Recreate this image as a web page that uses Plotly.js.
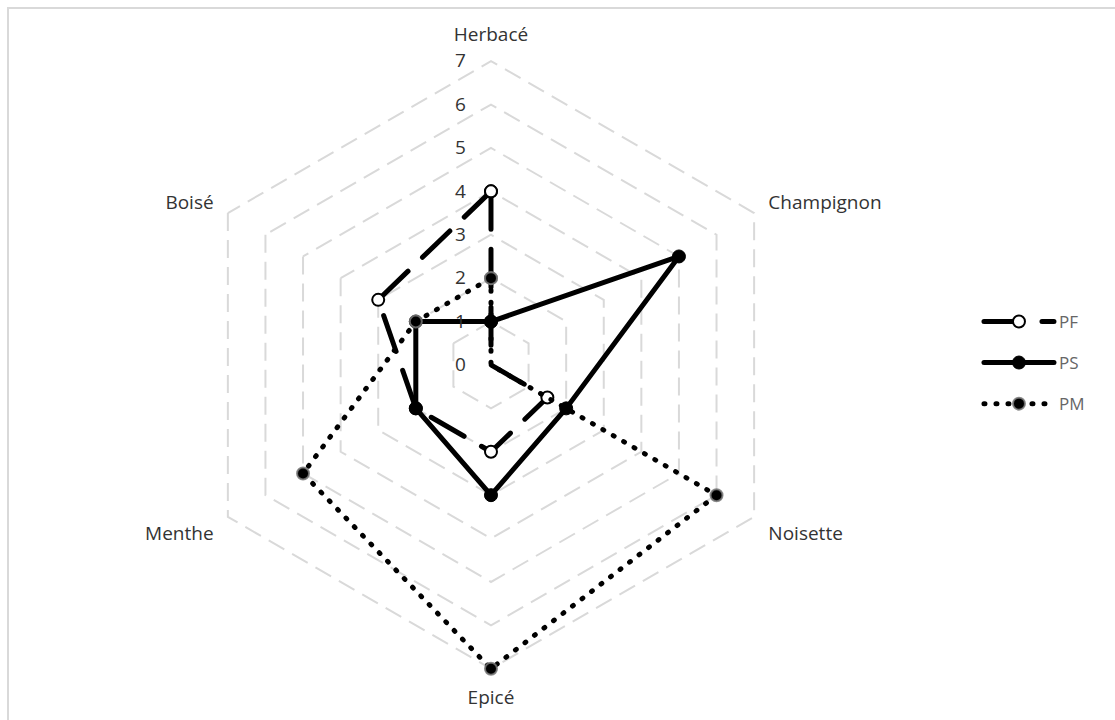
<!DOCTYPE html>
<html>
<head>
<meta charset="utf-8">
<script src="https://cdn.plot.ly/plotly-3.0.1.min.js"></script>
<style>
  html, body { margin: 0; padding: 0; background: #fff; }
  #wrap { position: relative; width: 1115px; height: 720px; overflow: hidden; }
  #frame { position: absolute; left: 7px; top: 7px; width: 1200px; height: 800px;
           border-top: 2px solid #d9d9d9; border-left: 2px solid #d9d9d9; pointer-events: none; }
  #chart { position: absolute; left: 0; top: 0; width: 1115px; height: 720px; }
  /* rounded ends for the dash and dot patterns of the profile lines */
  .scatterlayer .js-line, .legend .js-line { stroke-linecap: round; stroke-linejoin: round; }
</style>
</head>
<body>
<div id="wrap">
  <div id="frame"></div>
  <div id="chart"></div>
</div>
<script>
// Aroma descriptors, clockwise from the top
const descriptors = ['Herbacé', 'Champignon', 'Noisette', 'Epicé', 'Menthe', 'Boisé'];

// Scores per profile
const pfScores = [4, 0, 1.5, 2, 2, 3];
const psScores = [1, 5, 2, 3, 2, 2];
const pmScores = [2, 0, 6, 7, 5, 2];

const radialTicks = [0, 1, 2, 3, 4, 5, 6, 7];

// close each polygon by repeating the first descriptor
const closeLoop = arr => arr.concat([arr[0]]);
const theta = closeLoop(descriptors);

const pf = {
  type: 'scatterpolar', mode: 'lines+markers', name: 'PF',
  r: closeLoop(pfScores), theta: theta,
  line: { color: '#000', width: 5, dash: '38px,20px' },
  marker: { size: 12, color: '#fff', line: { color: '#000', width: 2 } },
  legendgroup: 'a', cliponaxis: false
};
const ps = {
  type: 'scatterpolar', mode: 'lines+markers', name: 'PS',
  r: closeLoop(psScores), theta: theta,
  line: { color: '#000', width: 5 },
  marker: { size: 13, color: '#000', line: { color: '#000', width: 1 } },
  legendgroup: 'b', cliponaxis: false
};
const pm = {
  type: 'scatterpolar', mode: 'lines+markers', name: 'PM',
  r: closeLoop(pmScores), theta: theta,
  line: { color: '#000', width: 5, dash: '1px,11px' },
  marker: { size: 12, color: '#000', line: { color: 'rgba(120,120,120,0.85)', width: 2 } },
  legendgroup: 'c', cliponaxis: false
};

const font = { family: '"Open Sans", "Liberation Sans", sans-serif', size: 19, color: '#333' };

const layout = {
  width: 1115, height: 720,
  margin: { l: 0, r: 0, t: 0, b: 0 },
  paper_bgcolor: 'rgba(0,0,0,0)',
  plot_bgcolor: 'rgba(0,0,0,0)',
  font: font,
  showlegend: true,
  legend: {
    x: 0.878, y: 0.496, xanchor: 'left', yanchor: 'middle',
    traceorder: 'grouped', tracegroupgap: 16, itemwidth: 70,
    font: { family: font.family, size: 17, color: '#666' },
    bgcolor: 'rgba(0,0,0,0)'
  },
  polar: {
    // range runs a little past 7 so the outer hexagon gridline is kept
    domain: { x: [0.1659, 0.7148], y: [0.0681, 0.9181] },
    bgcolor: 'rgba(0,0,0,0)',
    gridshape: 'linear',
    radialaxis: {
      range: [0, 7.05], tickvals: radialTicks, ticktext: radialTicks.map(String),
      angle: 90, side: 'counterclockwise', tickangle: 90,
      showline: false, showgrid: true, gridcolor: '#d9d9d9', gridwidth: 2, griddash: '18px,9px',
      ticks: 'outside', ticklen: 18, tickcolor: 'rgba(0,0,0,0)',
      tickfont: { family: font.family, size: 19, color: '#333' }
    },
    angularaxis: {
      direction: 'clockwise', rotation: 90,
      showline: false, showgrid: false,
      ticks: 'outside', ticklen: 10, tickcolor: 'rgba(0,0,0,0)',
      tickfont: { family: font.family, size: 19, color: '#333' }
    }
  }
};

Plotly.newPlot('chart', [pf, ps, pm], layout, { staticPlot: true, displayModeBar: false });
</script>
</body>
</html>
